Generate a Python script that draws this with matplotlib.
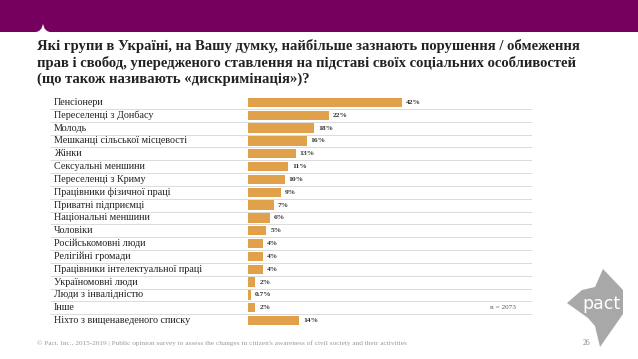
import matplotlib.pyplot as plt
from matplotlib.patches import Rectangle, Polygon
import numpy as np

# Дані слайду
groups = ['Пенсіонери', 'Переселенці з Донбасу', 'Молодь', 'Мешканці сільської місцевості',
          'Жінки', 'Сексуальні меншини', 'Переселенці з Криму', 'Працівники фізичної праці',
          'Приватні підприємці', 'Національні меншини', 'Чоловіки', 'Російськомовні люди',
          'Релігійні громади', 'Працівники інтелектуальної праці', 'Україномовні люди',
          'Люди з інвалідністю', 'Інше', 'Ніхто з вищенаведеного списку']
values = [42, 22, 18, 16, 13, 11, 10, 9, 7, 6, 5, 4, 4, 4, 2, 0.7, 2, 14]
value_labels = ['42%', '22%', '18%', '16%', '13%', '11%', '10%', '9%', '7%', '6%', '5%',
                '4%', '4%', '4%', '2%', '0.7%', '2%', '14%']

title = ('Які групи в Україні, на Вашу думку, найбільше зазнають порушення / обмеження\n'
         'прав і свобод, упередженого ставлення на підставі своїх соціальних особливостей\n'
         '(що також називають «дискримінація»)?')
footer = ("© Pact. Inc., 2015-2019 | Public opinion survey to assess the changes in "
          "citizen's awareness of civil society and their activities")
n_note = 'n = 2073'
page = '26'

W, H = 638, 359
purple = '#75005E'
bar_col = '#E0A14A'
serif = ['Liberation Serif', 'DejaVu Serif']

fig = plt.figure(figsize=(W / 100, H / 100), dpi=100)
fig.patch.set_facecolor('white')

## Фон, шапка, логотип
bg = fig.add_axes([0, 0, 1, 1])
bg.set_xlim(0, W)
bg.set_ylim(H, 0)
bg.axis('off')
bg.add_patch(Rectangle((0, 0), W, 32, color=purple, lw=0))
bg.add_patch(Polygon([(35, 32.5), (39, 31), (41.5, 28.5), (43, 24), (44.5, 28.5), (47, 31), (51, 32.5)],
                     closed=True, color='white', lw=0))
bg.add_patch(Polygon([(603, 269), (623, 290), (623, 314), (600, 347), (595, 326),
                      (588, 318), (567, 303), (582, 290), (595, 287)],
                     closed=True, color='#A8A8A8', lw=0))
bg.text(601, 304, 'pact', color='white', fontsize=12.5, family='DejaVu Sans',
        ha='center', va='center')
bg.text(37, 39, title, fontsize=10.5, fontweight='bold', family=serif, color='#222222',
        ha='left', va='top', linespacing=1.28)
bg.text(37, 343, footer, fontsize=5.2, family=serif, color='#999999', ha='left', va='center')
bg.text(583, 343, page, fontsize=5.5, family=serif, color='#888888', ha='left', va='center')

## Графік
px = 3.66  # пікселів на 1%
x0, x1, xb = 50, 532, 248
y0, y1 = 96, 327
ax = fig.add_axes([x0 / W, 1 - y1 / H, (x1 - x0) / W, (y1 - y0) / H])
ax.set_xlim(-(xb - x0) / px, (x1 - xb) / px)
n = len(groups)
ax.set_ylim(n - 0.5, -0.5)
ax.axis('off')

y = np.arange(n)
ax.barh(y, values, height=0.74, color=bar_col, lw=0)
ax.hlines(y[:-1] + 0.5, -(xb - x0) / px, (x1 - xb) / px, color='#D6D6D6', lw=0.6)
for i in range(n):
    ax.text(-(xb - x0 - 4) / px, y[i], groups[i], fontsize=7.3, family=serif,
            color='#222222', ha='left', va='center')
    ax.text(values[i] + 1.1, y[i], value_labels[i], fontsize=5.4, fontweight='bold',
            family=serif, color='#333333', ha='left', va='center')
ax.text((490 - xb) / px, groups.index('Інше'), n_note, fontsize=5.2, family=serif,
        color='#555555', ha='left', va='center')

fig.savefig('out.png', dpi=100)
